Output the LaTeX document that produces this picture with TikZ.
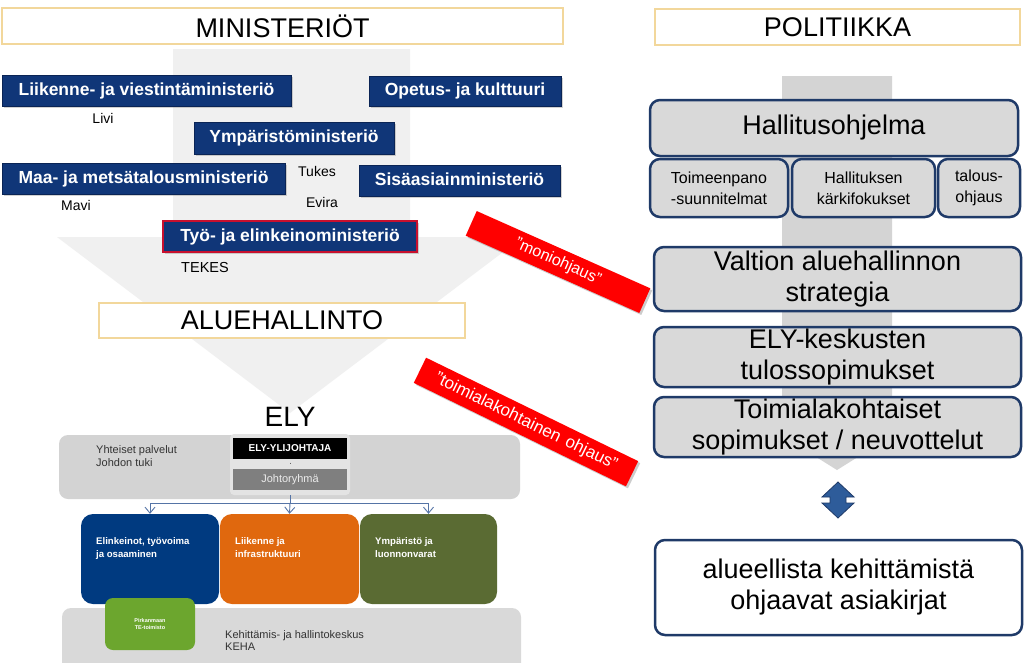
\documentclass[tikz,border=0pt]{standalone}
\usepackage{fontspec}
\setmainfont{Liberation Sans}
\usetikzlibrary{shadows,arrows.meta}
\definecolor{gold}{HTML}{F2D79B}
\definecolor{minblue}{HTML}{103678}
\definecolor{minborder}{HTML}{0A2455}
\definecolor{tyored}{HTML}{C8102E}
\definecolor{arrowlight}{HTML}{F0F0F0}
\definecolor{arrowmid}{HTML}{D4D4D4}
\definecolor{polgrey}{HTML}{D9D9D9}
\definecolor{polblue}{HTML}{1F3A68}
\definecolor{elygrey}{HTML}{D3D3D3}
\definecolor{framegrey}{HTML}{E3E3E3}
\definecolor{johtogrey}{HTML}{7F7F7F}
\definecolor{elinblue}{HTML}{003A80}
\definecolor{orangebox}{HTML}{E0680E}
\definecolor{olivebox}{HTML}{5A6B33}
\definecolor{greenbox}{HTML}{6CA62E}
\definecolor{connblue}{HTML}{5574A6}
\definecolor{dblfill}{HTML}{2E5C9A}
\tikzset{
  titlebox/.style={draw=gold, line width=2pt, fill=white, inner sep=0pt,
    font=\fontsize{27}{30}\selectfont},
  minbox/.style={fill=minblue, draw=minborder, line width=0.8pt, text=white, inner sep=0pt,
    font=\bfseries\fontsize{17.5}{20}\selectfont, text height=13pt, text depth=4pt,
    drop shadow={opacity=0.35, shadow xshift=1.5pt, shadow yshift=-1.5pt}},
  agency/.style={inner sep=0pt, font=\fontsize{14}{16}\selectfont},
  polbox/.style={rounded corners=10pt, fill=polgrey, draw=polblue, line width=2.5pt,
    inner sep=0pt, align=center, font=\fontsize{27}{31}\selectfont},
  subbox/.style={polbox, font=\fontsize{16}{21}\selectfont},
  redlabel/.style={fill=red, text=white, inner sep=0pt,
    drop shadow={opacity=0.4, shadow xshift=2pt, shadow yshift=-2pt}},
  unitbox/.style={rounded corners=12pt, inner sep=0pt},
  unittext/.style={text=white, inner sep=0pt, align=left, anchor=north west,
    font=\bfseries\fontsize{9.6}{12.5}\selectfont},
  greytext/.style={inner sep=0pt, align=left, anchor=west, text=black!80,
    font=\fontsize{11}{12.5}\selectfont},
  conn/.style={draw=connblue, line width=0.9pt},
  connarrow/.style={conn, -{Straight Barb[length=6pt,width=10pt]}}
}
\begin{document}
\begin{tikzpicture}[x=1pt,y=-1pt]
\useasboundingbox (0,0) rectangle (1024,662);
\fill[white] (0,0) rectangle (1024,662);

% big background arrows
\fill[arrowlight] (173,49) -- (410,49) -- (410,237) -- (523,237) -- (290,413)
  -- (57,237) -- (173,237) -- cycle;
\fill[arrowmid] (782,76) -- (892,76) -- (892,420) -- (917,420) -- (837,470)
  -- (757,420) -- (782,420) -- cycle;

% titles
\node[titlebox, minimum width=561pt, minimum height=36pt] (minist) at (282.5,26) {MINISTERIÖT};
\node[titlebox, minimum width=365pt, minimum height=36pt] (polit) at (837.5,27) {POLITIIKKA};
\node[titlebox, minimum width=366pt, minimum height=35pt] (alue) at (282,320.5) {ALUEHALLINTO};

% ministries
\node[minbox, minimum width=289pt, minimum height=31pt] (lvm) at (146.5,90.5) {Liikenne- ja viestintäministeriö};
\node[minbox, minimum width=192pt, minimum height=30pt] (okm) at (465,91) {Opetus- ja kulttuuri};
\node[minbox, minimum width=200pt, minimum height=32pt] (ym) at (294,138) {Ympäristöministeriö};
\node[minbox, minimum width=283pt, minimum height=31pt] (mmm) at (143.5,178.5) {Maa- ja metsätalousministeriö};
\node[minbox, minimum width=201pt, minimum height=31pt] (sm) at (459.5,180.5) {Sisäasiainministeriö};
\node[minbox, draw=tyored, line width=2pt, minimum width=254pt, minimum height=31pt] (tem) at (290,236.5) {Työ- ja elinkeinoministeriö};

% agencies
\node[agency] (livi) at (103,118) {Livi};
\node[agency] (tukes) at (317,171) {Tukes};
\node[agency] (evira) at (322,202) {Evira};
\node[agency] (mavi) at (76,205) {Mavi};
\node[agency, font=\fontsize{14.5}{16}\selectfont] (tekes) at (205,268) {TEKES};

% red labels
\node[redlabel, rotate=-24, minimum width=190pt, minimum height=27pt,
  font=\fontsize{16}{18}\selectfont] (moni) at (558,262) {”moniohjaus”};
\node[redlabel, rotate=-26, minimum width=236pt, minimum height=28pt,
  font=\fontsize{17}{19}\selectfont] (toimi) at (526,422) {”toimialakohtainen\hspace{7pt}ohjaus”};

% ELY
\node[inner sep=0pt, font=\fontsize{28}{30}\selectfont] (ely) at (290,417) {ELY};
\node[fill=elygrey, rounded corners=9pt, minimum width=461pt, minimum height=64pt, inner sep=0pt] (yht) at (289.5,467) {};
\node[greytext] (yhttext) at (96,456) {Yhteiset palvelut\\Johdon tuki};
\node[fill=framegrey, rounded corners=4pt, minimum width=120pt, minimum height=61pt, inner sep=0pt] (frame) at (290,464.5) {};
\node[fill=black, text=white, minimum width=114pt, minimum height=21pt, inner sep=0pt,
  font=\bfseries\fontsize{10}{12}\selectfont] (ylij) at (290,448.5) {ELY-YLIJOHTAJA};
\node[fill=johtogrey, text=black!8, minimum width=114pt, minimum height=21pt, inner sep=0pt,
  font=\fontsize{11}{12}\selectfont] (johto) at (290,479.5) {Johtoryhmä};
\draw[black!60, line width=1pt] (290,462.6) -- (290,464.2);

% units
\node[unitbox, fill=elinblue, minimum width=138pt, minimum height=90pt] (elin) at (150,559) {};
\node[unitbox, fill=orangebox, minimum width=139pt, minimum height=90pt] (liik) at (289.5,559) {};
\node[unitbox, fill=olivebox, minimum width=137pt, minimum height=90pt] (ympl) at (428.5,559) {};
\node[unittext] (elintext) at (96,537.5) {Elinkeinot, työvoima\\ja osaaminen};
\node[unittext] (liiktext) at (235,537.5) {Liikenne ja\\infrastruktuuri};
\node[unittext] (ympltext) at (375,537.5) {Ympäristö ja\\luonnonvarat};

% KEHA
\fill[polgrey, rounded corners=9pt] (62,608) rectangle (521,672);
\node[greytext] (keha) at (225,640.5) {Kehittämis- ja hallintokeskus\\KEHA};
\node[fill=greenbox, rounded corners=8pt, minimum width=90pt, minimum height=52pt, inner sep=0pt,
  text=white, align=center, font=\bfseries\fontsize{5.5}{7}\selectfont] (te) at (150,624) {Pirkanmaan\\TE-toimisto};

% connectors
\coordinate (bus) at (290,503);
\draw[conn] (frame.south) -- (bus);
\draw[connarrow] (bus) -| (elin.north);
\draw[connarrow] (bus) -- (liik.north);
\draw[connarrow] (bus) -| (ympl.north);

% politics column
\node[polbox, minimum width=368pt, minimum height=56pt] (hall) at (834,128) {Hallitusohjelma};
\node[subbox, minimum width=138pt, minimum height=58pt] (toim) at (719,188) {Toimeenpano\\-suunnitelmat};
\node[subbox, minimum width=143pt, minimum height=58pt] (karki) at (863.5,188) {Hallituksen\\kärkifokukset};
\node[subbox, minimum width=82pt, minimum height=58pt] (talous) at (979,188) {talous-\\ohjaus};
\node[polbox, minimum width=367pt, minimum height=64pt] (valt) at (837.5,279) {Valtion aluehallinnon\\strategia};
\node[polbox, minimum width=367pt, minimum height=60pt] (elyk) at (837.5,357) {ELY-keskusten\\tulossopimukset};
\node[polbox, minimum width=367pt, minimum height=60pt] (toimsop) at (837.5,427) {Toimialakohtaiset\\sopimukset / neuvottelut};
\node[polbox, fill=white, minimum width=367pt, minimum height=95pt] (asiak) at (838.5,587.5) {alueellista kehittämistä\\ohjaavat asiakirjat};

% double arrow
\filldraw[fill=dblfill, draw=polblue, line width=0.8pt, line join=miter]
  (838,482) -- (854,497) -- (846,497) -- (846,503) -- (854,503) -- (838,518)
  -- (822,503) -- (830,503) -- (830,497) -- (822,497) -- cycle;
\end{tikzpicture}
\end{document}
